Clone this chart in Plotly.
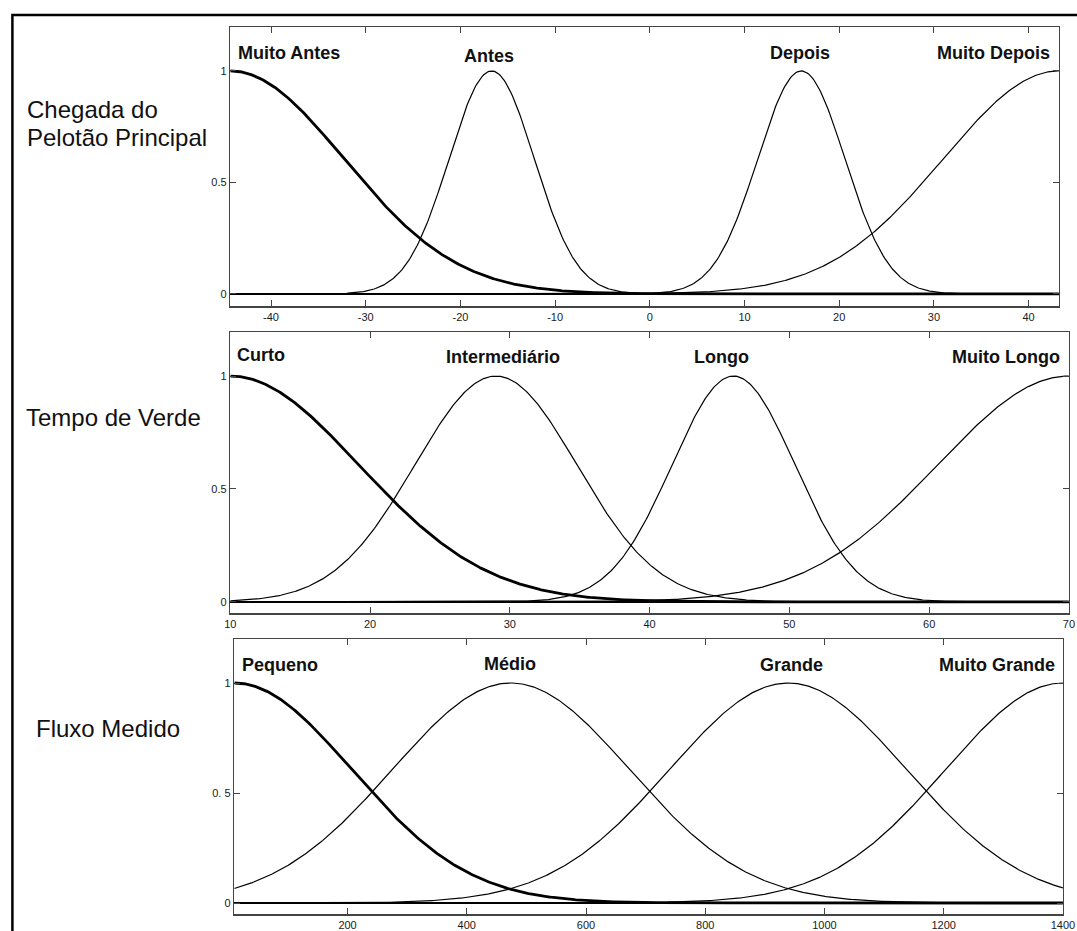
import numpy as np
import plotly.graph_objects as go

# ---------------- data ----------------
# Panel 1: Chegada do Pelotão Principal
p1_names = ["Muito Antes", "Antes", "Depois", "Muito Depois"]
p1_centers = [-44.3, -16.7, 16.0, 43.2]
p1_sigmas = [12.0, 4.5, 4.6, 12.2]
p1_ticks = [-40, -30, -20, -10, 0, 10, 20, 30, 40]
p1_xrange = [-44.3, 43.2]

# Panel 2: Tempo de Verde
p2_names = ["Curto", "Intermediário", "Longo", "Muito Longo"]
p2_centers = [10.0, 29.0, 46.0, 70.0]
p2_sigmas = [9.2, 5.8, 4.4, 9.4]
p2_ticks = [10, 20, 30, 40, 50, 60, 70]
p2_xrange = [10, 70]

# Panel 3: Fluxo Medido
p3_names = ["Pequeno", "Médio", "Grande", "Muito Grande"]
p3_centers = [10.0, 474.0, 939.0, 1400.0]
p3_sigmas = [197.0, 199.0, 199.0, 197.0]
p3_ticks = [200, 400, 600, 800, 1000, 1200, 1400]
p3_xrange = [10, 1400]

panel_titles = [["Chegada do", "Pelotão Principal"], ["Tempo de Verde"], ["Fluxo Medido"]]
y_ticktext = [["0", "0.5", "1"], ["0", "0.5", "1"], ["0", "0. 5", "1"]]

# ---------------- layout helpers ----------------
W, H = 1094, 931
SX, OX = 0.984, 4.6   # horizontal correction observed in the rendered picture
def px(x):
    return ((x - OX) / SX) / W
def py(y):
    return 1 - y / H

# plot-area pixel boxes (left, top, right, bottom) in picture pixels
boxes = [(229, 27, 1058, 306), (229, 332, 1068, 613), (233, 639, 1062, 914)]
yranges = [[-0.054, 1.197], [-0.049, 1.195], [-0.050, 1.200]]

# label positions (pixel centers)
label_pos = [
    [(288, 53), (488, 56), (799, 53), (993, 53)],
    [(260, 355), (502, 357), (720, 357), (1005, 357)],
    [(279, 665), (509, 664), (790, 665), (996, 665)],
]
title_pos = [[(24, 110), (24, 137)], [(23, 417)], [(33, 728)]]

panels = [
    (p1_names, p1_centers, p1_sigmas, p1_ticks, p1_xrange),
    (p2_names, p2_centers, p2_sigmas, p2_ticks, p2_xrange),
    (p3_names, p3_centers, p3_sigmas, p3_ticks, p3_xrange),
]

fig = go.Figure()
annotations = []
tickfont = dict(family="Liberation Sans, Arial, sans-serif", size=11, color="#1a1a1a")
labfont = dict(family="Liberation Sans, Arial, sans-serif", size=18, color="#111")
titlefont = dict(family="Liberation Sans, Arial, sans-serif", size=24, color="#111")

for i, (names, centers, sigmas, ticks, xr) in enumerate(panels):
    k = "" if i == 0 else str(i + 1)
    xa, ya = "x" + k, "y" + k
    x = np.linspace(xr[0], xr[1], 600)
    for j, (n, c, s) in enumerate(zip(names, centers, sigmas)):
        yv = np.exp(-((x - c) ** 2) / (2 * s ** 2))
        fig.add_trace(go.Scatter(
            x=x, y=yv, mode="lines", name=n, xaxis=xa, yaxis=ya,
            line=dict(color="black", width=2.8 if j == 0 else 1.2),
            showlegend=False, hoverinfo="skip"))
    l, t, r, b = boxes[i]
    axis_common = dict(showgrid=False, showline=True, linecolor="#444", linewidth=1.5,
                       mirror="ticks", ticks="inside", ticklen=6, tickwidth=1,
                       tickcolor="#444", tickfont=tickfont)
    fig.update_layout(**{
        "xaxis" + k: dict(domain=[px(l), px(r)], range=xr, tickvals=ticks,
                          ticktext=[str(v) for v in ticks],
                          anchor=ya, zeroline=False, **axis_common),
        "yaxis" + k: dict(domain=[py(b), py(t)], range=yranges[i],
                          tickvals=[0, 0.5, 1], ticktext=y_ticktext[i],
                          anchor=xa, zeroline=True, zerolinecolor="black",
                          zerolinewidth=2, **axis_common),
    })
    for n, (lx, ly) in zip(names, label_pos[i]):
        annotations.append(dict(text="<b>" + n + "</b>", x=px(lx), y=py(ly),
                                xref="paper", yref="paper", showarrow=False,
                                xanchor="center", yanchor="middle", font=labfont))
    for line, (tx, ty) in zip(panel_titles[i], title_pos[i]):
        annotations.append(dict(text=line, x=px(tx), y=py(ty), xref="paper",
                                yref="paper", showarrow=False, xanchor="left",
                                yanchor="middle", font=titlefont))

# outer frame: only the top and left sides are inside the picture
frame_path = "M {:.5f},0 L {:.5f},{:.5f} L 1,{:.5f}".format(px(11), px(11), py(15), py(15))

fig.update_layout(
    width=W, height=H, autosize=False,
    margin=dict(l=0, r=0, t=0, b=0),
    paper_bgcolor="white", plot_bgcolor="white",
    annotations=annotations,
    hovermode=False,
    shapes=[dict(type="path", xref="paper", yref="paper", path=frame_path,
                 line=dict(color="black", width=2.5))],
)

fig.write_html(
    "out.html",
    config={"displayModeBar": False, "responsive": False, "staticPlot": True},
    post_script=("document.documentElement.style.margin='0';"
                 "document.documentElement.style.overflow='hidden';"
                 "document.body.style.margin='0';document.body.style.overflow='hidden';"),
)
